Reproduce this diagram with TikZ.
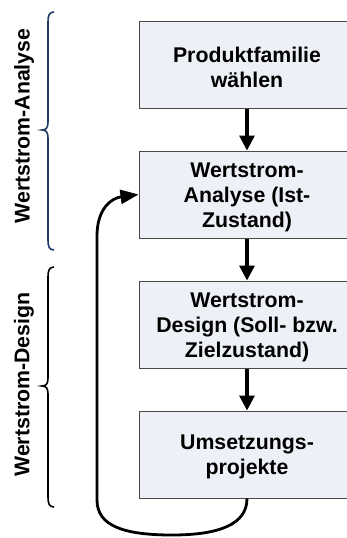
\documentclass[tikz,border=0pt]{standalone}
\usepackage{fontspec}
\setmainfont{Liberation Sans}
\usetikzlibrary{arrows.meta}
\definecolor{boxfill}{HTML}{EEF0F7}
\definecolor{boxline}{HTML}{4A4A4A}
\definecolor{bracenavy}{HTML}{1F3B66}
\begin{document}
\begin{tikzpicture}[x=1pt,y=-1pt,
  stepbox/.style={draw=boxline,line width=1pt,fill=boxfill,
    minimum width=216pt,minimum height=87pt,inner sep=0pt,align=center,
    font=\fontsize{21.3}{25}\selectfont\bfseries},
  steptext/.style={yshift=-2.5pt,inner sep=0pt,align=center,
    font=\fontsize{21.3}{25}\selectfont\bfseries},
  flow/.style={line width=3.2pt,-{Triangle[length=15pt,width=15pt]}},
  loop/.style={line width=2.8pt,-{Triangle[length=18pt,width=14pt]}},
  sidelabel/.style={rotate=90,inner sep=0pt,font=\fontsize{21.3}{24}\selectfont\bfseries},
  bracepath/.style={line width=1.6pt}]
  \clip (0,0) rectangle (347,538);
  \fill[white] (0,0) rectangle (347,538);

  % process steps
  \node[stepbox] (b1) at (247,64.5) {};
  \node[stepbox] (b2) at (247,194.5) {};
  \node[stepbox] (b3) at (247,324.5) {};
  \node[stepbox] (b4) at (247,454.5) {};
  \node[steptext] (t1) at (b1) {Produktfamilie\\wählen};
  \node[steptext] (t2) at (b2) {Wertstrom-\\Analyse (Ist-\\Zustand)};
  \node[steptext] (t3) at (b3) {Wertstrom-\\Design (Soll- bzw.\\Zielzustand)};
  \node[steptext] (t4) at (b4) {Umsetzungs-\\projekte};

  % main flow
  \draw[flow] (b1.south) -- (b2.north);
  \draw[flow] (b2.south) -- (b3.north);
  \draw[flow] (b3.south) -- (b4.north);

  % feedback loop back to the analysis step
  \draw[loop] (b4.south) .. controls (247,524) and (220,535) .. (172,535)
    .. controls (124,535) and (97,526) .. (97,500) -- (97,236)
    .. controls (97,208) and (112,198) .. (b2.west);

  % phase braces
  \draw[bracepath,bracenavy] (54,12) .. controls (49,12) and (48,16) .. (48,22)
    -- (48,122) .. controls (48,128) and (46,130) .. (42,130)
    .. controls (46,130) and (48,132) .. (48,138)
    -- (48,240) .. controls (48,246) and (49,250) .. (54,250);
  \draw[bracepath,black] (54,267) .. controls (49,267) and (48,271) .. (48,277)
    -- (48,378) .. controls (48,384) and (46,386) .. (42,386)
    .. controls (46,386) and (48,388) .. (48,394)
    -- (48,497) .. controls (48,503) and (49,507) .. (54,507);

  \node[sidelabel] (la) at (24,126) {Wertstrom-Analyse};
  \node[sidelabel] (ld) at (24,384.5) {Wertstrom-Design};
\end{tikzpicture}
\end{document}
